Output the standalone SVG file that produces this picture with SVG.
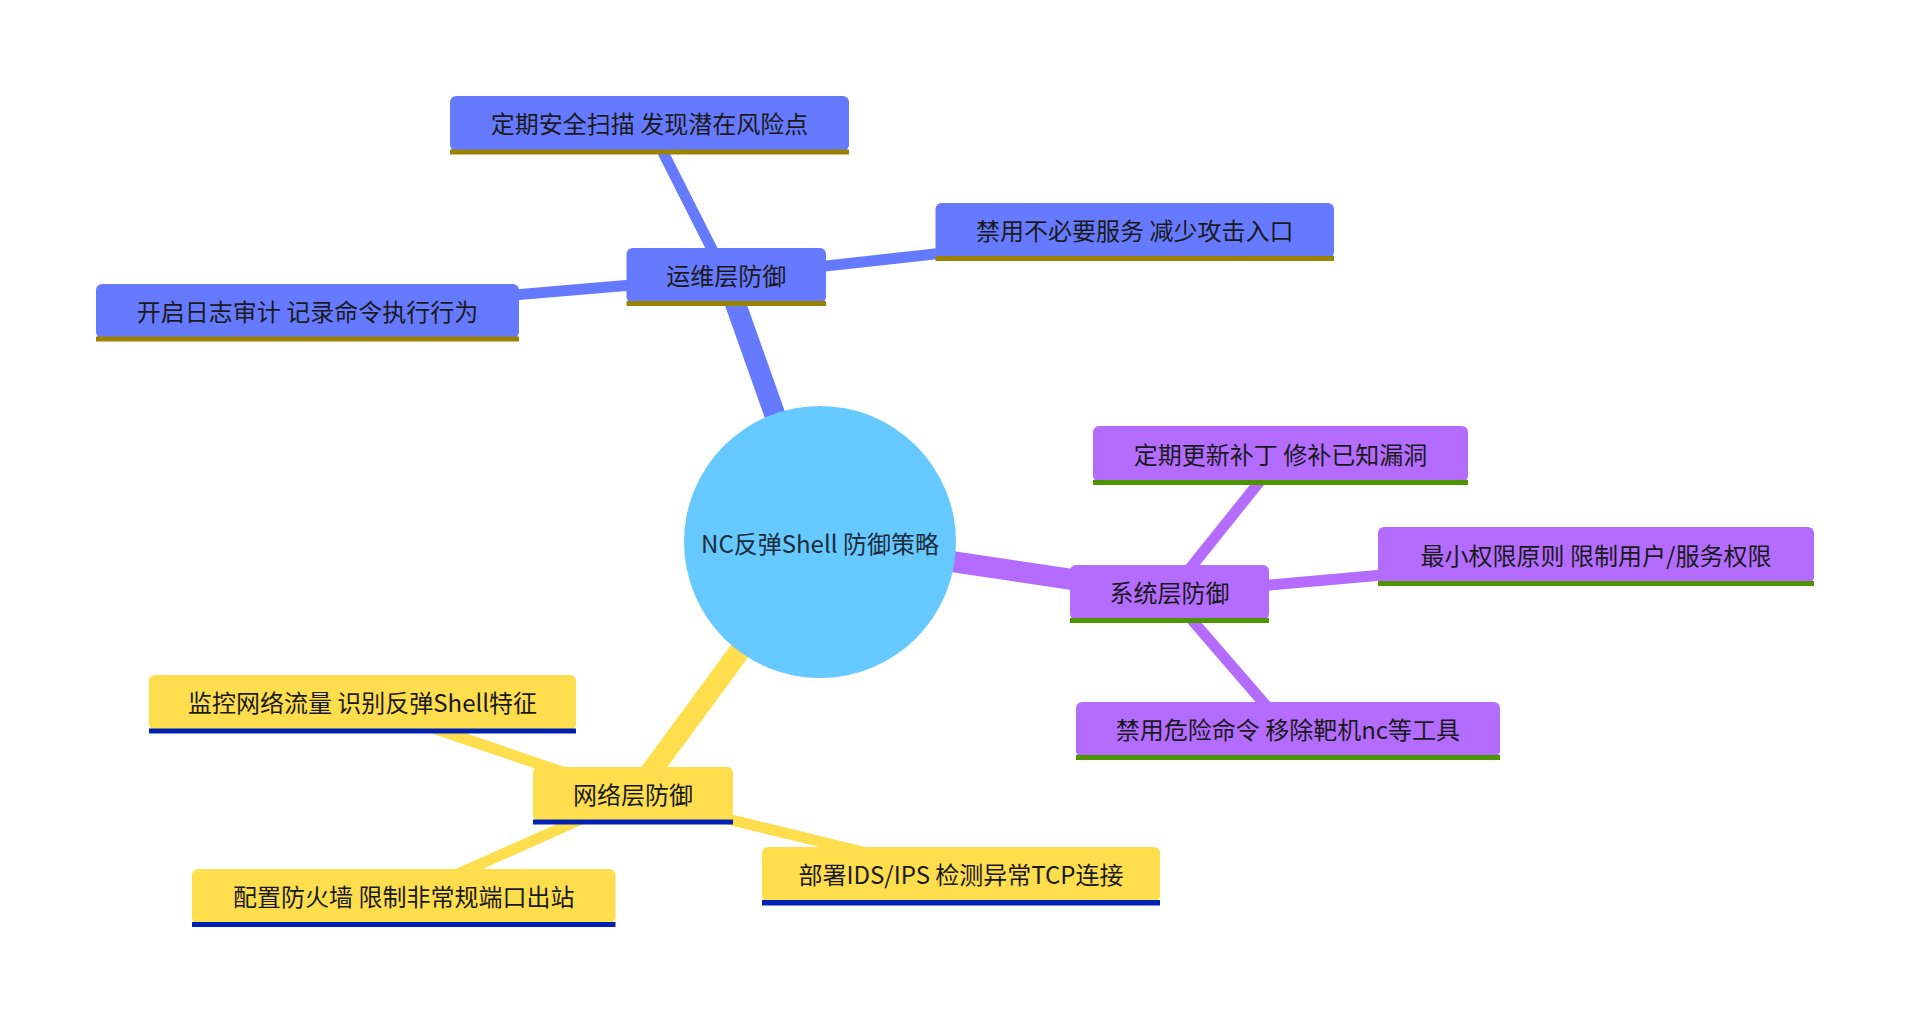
<svg xmlns="http://www.w3.org/2000/svg" width="1910" height="1021" viewBox="0 0 1910 1021">
<style>
  text { font-family: "Noto Sans CJK SC", "Noto Sans", sans-serif; font-size: 24px; fill: #1a1a1a; text-anchor: middle; dominant-baseline: central; }
  .root-text { fill: #1c2b3a; }
  .e-root { stroke-width: 21; fill: none; stroke-linecap: butt; }
  .e-leaf { stroke-width: 11; fill: none; stroke-linecap: butt; }
  .blue { stroke: #667aff; }
  .purple { stroke: #b46cff; }
  .yellow { stroke: #ffde4d; }
  .s0 rect.box { fill: #667aff; }
  .s0 rect.ul { fill: #9b8300; }
  .s1 rect.box { fill: #b46cff; }
  .s1 rect.ul { fill: #4d9400; }
  .s2 rect.box { fill: #ffde4d; }
  .s2 rect.ul { fill: #0021b2; }
</style>
<rect width="1910" height="1021" fill="#ffffff"/>
<g id="connectors">
  <line class="e-root blue" x1="820" y1="542" x2="726" y2="277"/>
  <line class="e-root purple" x1="820" y1="542" x2="1169.5" y2="594"/>
  <line class="e-root yellow" x1="820" y1="542" x2="633" y2="796"/>
  <line class="e-leaf blue" x1="726" y1="277" x2="649.5" y2="125.5"/>
  <line class="e-leaf blue" x1="726" y1="277" x2="307.5" y2="312.5"/>
  <line class="e-leaf blue" x1="726" y1="277" x2="1134.7" y2="232"/>
  <line class="e-leaf purple" x1="1169.5" y1="594" x2="1280.5" y2="455.5"/>
  <line class="e-leaf purple" x1="1169.5" y1="594" x2="1596" y2="556"/>
  <line class="e-leaf purple" x1="1169.5" y1="594" x2="1288" y2="731"/>
  <line class="e-leaf yellow" x1="633" y1="796" x2="362.5" y2="704"/>
  <line class="e-leaf yellow" x1="633" y1="796" x2="404" y2="898"/>
  <line class="e-leaf yellow" x1="633" y1="796" x2="961" y2="876"/>
</g>
<g id="root">
  <circle cx="820" cy="542" r="136" fill="#66c9ff"/>
  <text class="root-text" x="820" y="542">NC反弹Shell 防御策略</text>
</g>
<g id="ops" class="s0">
  <rect class="box" x="626.5" y="248" width="199.5" height="55" rx="6"/>
  <rect class="ul" x="626.5" y="301" width="199.5" height="5"/>
  <text x="726.2" y="274.5">运维层防御</text>
</g>
<g id="ops-scan" class="s0">
  <rect class="box" x="450" y="96" width="399" height="55" rx="6"/>
  <rect class="ul" x="450" y="149.5" width="399" height="5"/>
  <text x="649.5" y="122.5">定期安全扫描 发现潜在风险点</text>
</g>
<g id="ops-log" class="s0">
  <rect class="box" x="96" y="284" width="423" height="54" rx="6"/>
  <rect class="ul" x="96" y="336.5" width="423" height="5"/>
  <text x="307.5" y="310">开启日志审计 记录命令执行行为</text>
</g>
<g id="ops-svc" class="s0">
  <rect class="box" x="935.5" y="203" width="398.5" height="55" rx="6"/>
  <rect class="ul" x="935.5" y="256" width="398.5" height="5"/>
  <text x="1134.7" y="229.5">禁用不必要服务 减少攻击入口</text>
</g>
<g id="sys" class="s1">
  <rect class="box" x="1070" y="565" width="199" height="55" rx="6"/>
  <rect class="ul" x="1070" y="618" width="199" height="5"/>
  <text x="1169.5" y="591.5">系统层防御</text>
</g>
<g id="sys-patch" class="s1">
  <rect class="box" x="1093" y="426" width="375" height="56" rx="6"/>
  <rect class="ul" x="1093" y="480" width="375" height="5"/>
  <text x="1280.5" y="453">定期更新补丁 修补已知漏洞</text>
</g>
<g id="sys-priv" class="s1">
  <rect class="box" x="1378" y="527" width="436" height="56" rx="6"/>
  <rect class="ul" x="1378" y="581" width="436" height="5"/>
  <text x="1596" y="554">最小权限原则 限制用户/服务权限</text>
</g>
<g id="sys-cmd" class="s1">
  <rect class="box" x="1076" y="702" width="424" height="55" rx="6"/>
  <rect class="ul" x="1076" y="755" width="424" height="5"/>
  <text x="1288" y="728.5">禁用危险命令 移除靶机nc等工具</text>
</g>
<g id="net" class="s2">
  <rect class="box" x="533" y="767" width="200" height="54" rx="6"/>
  <rect class="ul" x="533" y="819.5" width="200" height="5"/>
  <text x="633" y="793">网络层防御</text>
</g>
<g id="net-monitor" class="s2">
  <rect class="box" x="149" y="675" width="427" height="55" rx="6"/>
  <rect class="ul" x="149" y="728.5" width="427" height="5"/>
  <text x="362.5" y="701.5">监控网络流量 识别反弹Shell特征</text>
</g>
<g id="net-fw" class="s2">
  <rect class="box" x="192" y="869" width="423.5" height="55" rx="6"/>
  <rect class="ul" x="192" y="922" width="423.5" height="5"/>
  <text x="403.7" y="895.5">配置防火墙 限制非常规端口出站</text>
</g>
<g id="net-ids" class="s2">
  <rect class="box" x="762" y="847" width="398" height="55" rx="6"/>
  <rect class="ul" x="762" y="900" width="398" height="5.5"/>
  <text x="961" y="873.5">部署IDS/IPS 检测异常TCP连接</text>
</g>
</svg>
